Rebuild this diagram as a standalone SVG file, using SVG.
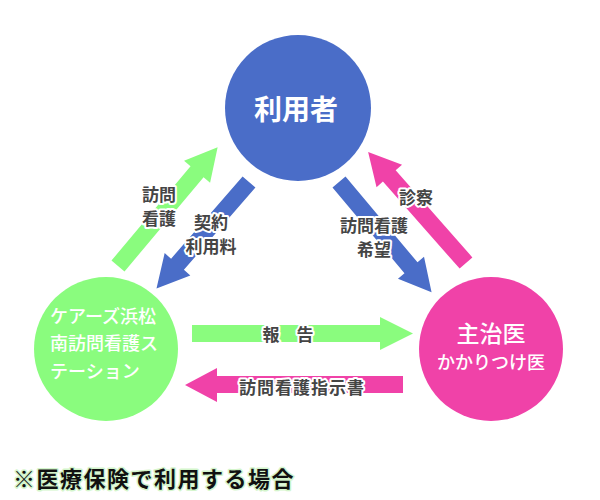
<svg xmlns="http://www.w3.org/2000/svg" width="600" height="500" viewBox="0 0 600 500">
<style>
.node-text{font-family:"Noto Sans CJK JP","Noto Sans",sans-serif;fill:#ffffff;text-anchor:middle}
.lbl{font-family:"Noto Sans CJK JP","Noto Sans",sans-serif;font-size:17px;font-weight:700;fill:#454545;stroke:#ffffff;stroke-width:4;stroke-linejoin:round;paint-order:stroke;text-anchor:middle}
.note{font-family:"Noto Sans CJK JP","Noto Sans",sans-serif;font-size:22px;font-weight:700;fill:#111111;stroke:#d4f5cc;stroke-width:3;stroke-linejoin:round;paint-order:stroke;letter-spacing:1.5px}
.green{fill:#8afc7e}
.blue{fill:#4a6dc8}
.pink{fill:#f042a8}
</style>
<rect width="600" height="500" fill="#ffffff"/>
<g id="connectors">
  <g id="arrow-houmon-kango" transform="translate(118,266) rotate(-50)">
    <polygon class="green" points="0,-8.5 123,-8.5 123,-17 155,0 123,17 123,8.5 0,8.5"/>
  </g>
  <g id="arrow-keiyaku" transform="translate(249,182) rotate(131)">
    <polygon class="blue" points="0,-8.5 109,-8.5 109,-17 141,0 109,17 109,8.5 0,8.5"/>
  </g>
  <g id="arrow-kibou" transform="translate(339,182) rotate(50)">
    <polygon class="blue" points="0,-8.5 112,-8.5 112,-17 144,0 112,17 112,8.5 0,8.5"/>
  </g>
  <g id="arrow-shinsatsu" transform="translate(466,263) rotate(-131.4)">
    <polygon class="pink" points="0,-8.5 116,-8.5 116,-17 148,0 116,17 116,8.5 0,8.5"/>
  </g>
  <g id="arrow-houkoku">
    <polygon class="green" points="192,325 380,325 380,317 413,333.5 380,350 380,342 192,342"/>
  </g>
  <g id="arrow-shiji">
    <polygon class="pink" points="403,376 217,376 217,368 185,385 217,402 217,393 403,393"/>
  </g>
  <text class="lbl" x="159" y="201">訪問</text>
  <text class="lbl" x="159" y="225">看護</text>
  <text class="lbl" x="211" y="229">契約</text>
  <text class="lbl" x="211" y="253">利用料</text>
  <text class="lbl" x="374" y="232">訪問看護</text>
  <text class="lbl" x="374" y="256">希望</text>
  <text class="lbl" x="416" y="204">診察</text>
  <text class="lbl" x="288" y="341" xml:space="preserve">報　告</text>
  <text class="lbl" x="302" y="394" letter-spacing="1">訪問看護指示書</text>
</g>
<g id="node-riyousha">
  <circle class="blue" cx="298" cy="108" r="73"/>
  <text class="node-text" x="296" y="120" font-size="28" font-weight="700">利用者</text>
</g>
<g id="node-care">
  <circle class="green" cx="106" cy="349" r="72"/>
  <text class="node-text" x="50" y="323" font-size="18" font-weight="500" style="text-anchor:start">ケアーズ浜松</text>
  <text class="node-text" x="50" y="350" font-size="18" font-weight="500" style="text-anchor:start">南訪問看護ス</text>
  <text class="node-text" x="50" y="378" font-size="18" font-weight="500" style="text-anchor:start">テーション</text>
</g>
<g id="node-shujii">
  <circle class="pink" cx="491" cy="349" r="72"/>
  <text class="node-text" x="491" y="342" font-size="23" font-weight="500">主治医</text>
  <text class="node-text" x="491" y="369" font-size="18" font-weight="500">かかりつけ医</text>
</g>
<text class="note" x="13" y="487">※医療保険で利用する場合</text>
</svg>
